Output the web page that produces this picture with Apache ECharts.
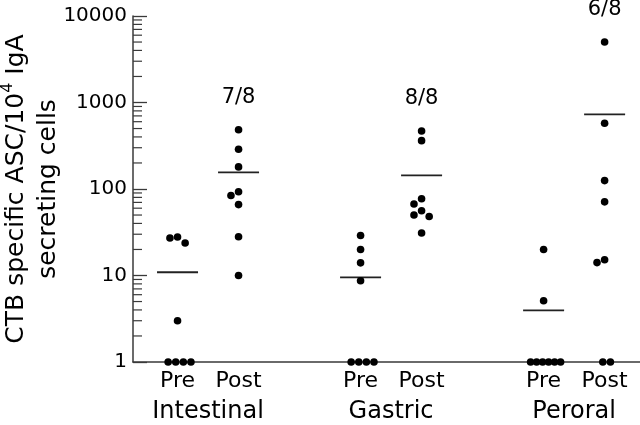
<!DOCTYPE html>
<html><head><meta charset="utf-8">
<script src="https://cdn.jsdelivr.net/npm/echarts@6/dist/echarts.min.js"></script>
<style>html,body{margin:0;padding:0;background:#fff}#c{width:640px;height:425px}</style>
</head><body><div id="c"></div>
<script>
// ---- data ----
const categories = ['Pre', 'Post', 'Pre', 'Post', 'Pre', 'Post'];
const groups = ['Intestinal', 'Gastric', 'Peroral'];
const responders = ['7/8', '8/8', '6/8'];
const intestinalPre  = [27.9, 27.1, 23.8, 3, 1, 1, 1, 1];
const intestinalPost = [485, 288, 180, 93, 84, 66, 28, 10];
const gastricPre     = [29, 20, 14, 8.7, 1, 1, 1, 1];
const gastricPost    = [469, 362, 77, 67, 56, 50, 48, 31];
const peroralPre     = [20, 5.1, 1, 1, 1, 1, 1, 1];
const peroralPost    = [5000, 575, 125, 71, 15.2, 14.1, 1, 1];
const means          = [10.9, 156, 9.5, 144, 3.96, 730];
const yTickLabels    = ['1', '10', '100', '1000', '10000'];

// ---- layout helpers ----
const W = 640, H = 425;
const GRID = {left: 133, right: 0, top: 16, bottom: 63, containLabel: false, outerBoundsMode: 'none'};
const pxPerDecade = (H - GRID.top - GRID.bottom) / 4;
const allSets = [intestinalPre, intestinalPost, gastricPre, gastricPost, peroralPre, peroralPost];
const slot = i => Math.floor(i / 2) * 3 + 1 + (i % 2);   // x position of category i
const X_MIN = 0.27, X_MAX = 8.58;
const DOT = 7.6;

function swarm(vals) {
  const offs = new Array(vals.length).fill(null);
  const placed = [];
  const counts = {};
  vals.forEach(v => counts[v] = (counts[v] || 0) + 1);
  Object.keys(counts).forEach(k => {
    const n = counts[k];
    if (n > 1) {
      const s = Math.min(DOT, 30 / (n - 1));
      let j = 0;
      vals.forEach((v, i) => {
        if (String(v) === k) {
          offs[i] = (j - (n - 1) / 2) * s + 2; j++;
          placed.push([offs[i], Math.log10(v) * pxPerDecade]);
        }
      });
    }
  });
  const order = vals.map((v, i) => i).filter(i => offs[i] === null).sort((a, b) => vals[b] - vals[a]);
  order.forEach(i => {
    const y = Math.log10(vals[i]) * pxPerDecade;
    const cands = [0, -DOT, DOT, -2 * DOT, 2 * DOT, -3 * DOT, 3 * DOT];
    for (const c of cands) {
      if (placed.every(p => Math.hypot(p[0] - c, p[1] - y) >= DOT - 0.1)) {
        offs[i] = c; placed.push([c, y]); break;
      }
    }
  });
  return offs;
}

const dots = [];
allSets.forEach((vals, ci) => {
  const offs = swarm(vals);
  const maxV = Math.max(...vals);
  let labelled = false;
  vals.forEach((v, i) => {
    const item = {value: [slot(ci), v], symbolOffset: [offs[i], 0]};
    if (ci % 2 === 1 && v === maxV && !labelled) {
      labelled = true;
      item.label = {show: true, position: 'top', distance: 18, formatter: responders[(ci - 1) / 2],
        fontSize: 21, color: '#000', fontFamily: 'DejaVu Sans'};
    }
    dots.push(item);
  });
});
const meanData = means.map((m, ci) => [slot(ci), m]);

// minor log ticks 2..9 in each decade
const minorTicks = [];
[1, 10, 100, 1000].forEach(d => { for (let k = 2; k <= 9; k++) minorTicks.push([X_MIN, d * k]); });

const axisColor = '#3a3a3a';
const MINOR_LEN = 9;
const chart = echarts.init(document.getElementById('c'), null, {renderer: 'canvas'});
chart.setOption({
  animation: false,
  backgroundColor: '#fff',
  textStyle: {fontFamily: 'DejaVu Sans', color: '#000'},
  grid: GRID,
  xAxis: [{
    type: 'value', min: X_MIN, max: X_MAX, position: 'bottom',
    axisLine: {show: true, onZero: false, lineStyle: {color: axisColor, width: 1.5}},
    axisTick: {show: false}, splitLine: {show: false},
    axisLabel: {show: true, customValues: categories.map((c, i) => slot(i)),
      formatter: v => categories[[1, 2, 4, 5, 7, 8].indexOf(v)] || '',
      fontSize: 22, color: '#000', margin: 8}
  }, {
    type: 'value', min: X_MIN, max: X_MAX, position: 'bottom',
    axisLine: {show: false}, axisTick: {show: false}, splitLine: {show: false},
    axisLabel: {show: true, customValues: groups.map((g, i) => i * 3 + 1.5),
      formatter: v => groups[Math.round((v - 1.5) / 3)],
      fontSize: 24, color: '#000', margin: 38}
  }],
  yAxis: [{
    type: 'log', logBase: 10, min: 1, max: 10000, position: 'left',
    axisLine: {show: true, onZero: false, lineStyle: {color: axisColor, width: 1.5}},
    axisTick: {show: true, inside: true, length: 14, lineStyle: {color: axisColor, width: 1.3}},
    splitLine: {show: false},
    axisLabel: {fontSize: 20, color: '#000', margin: 6,
      formatter: v => yTickLabels[Math.round(Math.log10(v))]},
    name: '{a|CTB specific ASC/10}{s|4}{a| IgA}\n{a|secreting cells}',
    nameLocation: 'middle', nameRotate: 90, nameGap: 69, nameMoveOverlap: false,
    nameTextStyle: {
      lineHeight: 32,
      rich: {
        a: {fontSize: 25, color: '#000', fontFamily: 'DejaVu Sans', lineHeight: 32},
        s: {fontSize: 16, color: '#000', fontFamily: 'DejaVu Sans', verticalAlign: 'top', lineHeight: 32, padding: [0, 0, 12, 0]}
      }
    }
  }],
  series: [{
    // minor ticks of the log axis, drawn through the axis scale
    type: 'custom', silent: true, xAxisIndex: 0, yAxisIndex: 0, z: 5,
    data: minorTicks,
    renderItem: function (params, api) {
      const p = api.coord([api.value(0), api.value(1)]);
      return {type: 'line', shape: {x1: p[0], y1: p[1], x2: p[0] + MINOR_LEN, y2: p[1]},
        style: {stroke: axisColor, lineWidth: 1.2}};
    }
  }, {
    type: 'scatter', clip: false, xAxisIndex: 0, yAxisIndex: 0,
    symbol: 'rect', symbolSize: [41, 1.8],
    itemStyle: {color: '#222', opacity: 1}, data: meanData, z: 2
  }, {
    type: 'scatter', clip: false, xAxisIndex: 0, yAxisIndex: 0,
    symbol: 'circle', symbolSize: DOT,
    itemStyle: {color: '#000', opacity: 1}, data: dots, z: 3
  }]
});
</script></body></html>
